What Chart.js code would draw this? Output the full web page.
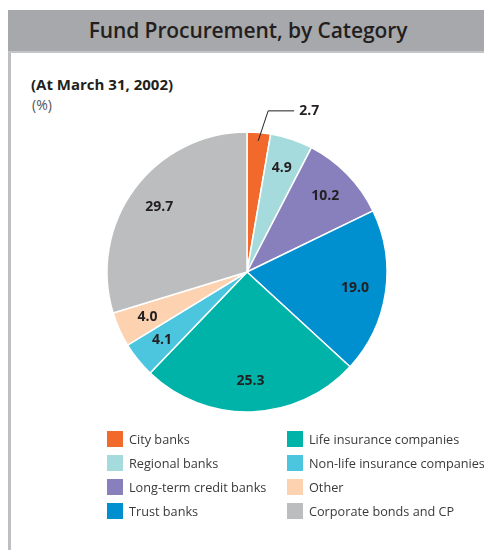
<!DOCTYPE html>
<html>
<head>
<meta charset="utf-8">
<script src="https://cdn.jsdelivr.net/npm/chart.js@4/dist/chart.umd.min.js"></script>
<style>
  body { margin: 0; width: 484px; height: 550px; background: #fff; position: relative; overflow: hidden; font-family: "Open Sans", "Noto Sans", sans-serif; }
  .header { position: absolute; left: 8px; top: 10px; width: 476px; height: 41px; background: #a7a8ab; border-bottom: 2px solid #c4c5c8; }
  .header h1 { margin: 0; font-size: 21px; font-weight: 600; color: #231f20; text-align: center; line-height: 41px; padding-left: 4px; letter-spacing: -0.1px; }
  .sidebar { position: absolute; left: 8px; top: 53px; width: 3px; height: 497px; background: #bdbec1; }
  .sub { position: absolute; left: 31px; top: 74px; font-size: 15px; font-weight: 700; color: #231f20; }
  .unit { position: absolute; left: 32px; top: 95px; font-size: 14px; color: #555; }
  #pieWrap { position: absolute; left: 76px; top: 91px; width: 342px; height: 362px; }
  .legend-item { position: absolute; height: 16px; display: flex; align-items: center; font-size: 12.7px; color: #3a3a3a; white-space: nowrap; }
  .legend-item span.sw { width: 16px; height: 16px; margin-right: 6px; flex: none; }
</style>
</head>
<body>
<div class="header"><h1>Fund Procurement, by Category</h1></div>
<div class="sidebar"></div>
<div class="sub">(At March 31, 2002)</div>
<div class="unit">(%)</div>
<div id="pieWrap"><canvas id="pie"></canvas></div>
<div id="legend"></div>
<script>
const categories = ['City banks', 'Regional banks', 'Long-term credit banks', 'Trust banks',
  'Life insurance companies', 'Non-life insurance companies', 'Other', 'Corporate bonds and CP'];
const shares = [2.7, 4.9, 10.2, 19.0, 25.3, 4.1, 4.0, 29.7];
const colors = ['#f26a2b', '#a5dbdc', '#8880bd', '#0090d0', '#00b3a9', '#4cc5de', '#fdd2b0', '#bcbdbf'];

// legend: two columns, filled top to bottom
const legend = document.getElementById('legend');
categories.forEach((name, i) => {
  const col = Math.floor(i / 4);
  const row = i % 4;
  const item = document.createElement('div');
  item.className = 'legend-item';
  item.style.left = (col === 0 ? 107 : 287) + 'px';
  item.style.top = (431 + row * 24) + 'px';
  item.innerHTML = '<span class="sw" style="background:' + colors[i] + '"></span>' + name;
  legend.appendChild(item);
});

// value labels inside slices, small first slice gets a leader line
const sliceLabels = {
  id: 'sliceLabels',
  afterDatasetsDraw(chart) {
    const ctx = chart.ctx;
    const arcs = chart.getDatasetMeta(0).data;
    ctx.save();
    ctx.font = 'bold 14px "Open Sans", "Noto Sans", sans-serif';
    ctx.fillStyle = '#231f20';
    ctx.textBaseline = 'middle';
    arcs.forEach((arc, i) => {
      const mid = (arc.startAngle + arc.endAngle) / 2;
      const text = shares[i].toFixed(1);
      if (i === 0) {
        const sx = arc.x + Math.cos(mid) * arc.outerRadius * 0.94;
        const sy = arc.y + Math.sin(mid) * arc.outerRadius * 0.94;
        const ex = sx + 10, ey = sy - 30;
        ctx.strokeStyle = '#231f20';
        ctx.lineWidth = 1;
        ctx.beginPath();
        ctx.moveTo(sx, sy);
        ctx.lineTo(ex, ey);
        ctx.lineTo(ex + 26, ey);
        ctx.stroke();
        ctx.textAlign = 'left';
        ctx.fillText(text, ex + 31, ey);
      } else {
        const r = arc.outerRadius * 0.78;
        ctx.textAlign = 'center';
        ctx.fillText(text, arc.x + Math.cos(mid) * r, arc.y + Math.sin(mid) * r);
      }
    });
    ctx.restore();
  }
};

new Chart(document.getElementById('pie'), {
  type: 'pie',
  data: {
    labels: categories,
    datasets: [{
      data: shares,
      backgroundColor: colors,
      borderColor: '#ffffff',
      borderWidth: 1.5
    }]
  },
  options: {
    responsive: true,
    maintainAspectRatio: false,
    animation: false,
    radius: 140,
    layout: { padding: 0 },
    plugins: {
      legend: { display: false },
      tooltip: { enabled: false }
    }
  },
  plugins: [sliceLabels]
});
</script>
</body>
</html>
